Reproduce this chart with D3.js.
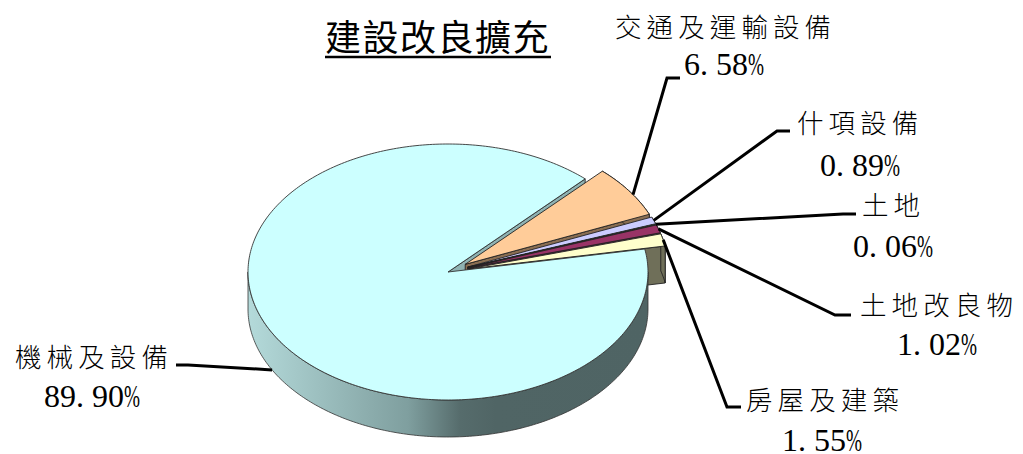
<!DOCTYPE html>
<html><head><meta charset="utf-8">
<script src="https://cdn.jsdelivr.net/npm/d3@7"></script>
<style>html,body{margin:0;background:#fff}svg{display:block}</style></head>
<body><svg id="c" width="1023" height="454"></svg>
<script>
const categories=["機械及設備","房屋及建築","土地改良物","土地","什項設備","交通及運輸設備"];
const values=[89.90,1.55,1.02,0.06,0.89,6.58];
const colors=["#CCFFFF","#FFFFCC","#993366","#CCFFCC","#CCCCFF","#FFCC99"];
const wallColors=["#8FB2B2","#6F6F59","#5A2440","#5A6F5A","#6A6A80","#8A6E52"];
const percentLabels=["89.90%","1.55%","1.02%","0.06%","0.89%","6.58%"];
const titleText="建設改良擴充";

// layout
const W=1023,H=454,cx=448,cy=272,rx=200,ry=128,depth=37,explode=0.105;
const firstCut=46.7*Math.PI/180; // math angle of the upper cut of the big slice
const labelLayout=[
 {name:[15,367],pct:[44,407],elbow:[[188,365],[176,365]]},
 {name:[746,410],pct:[782,451],elbow:[[727,407],[741,407]]},
 {name:[860,315],pct:[897,355],elbow:[[835,315],[851,315]]},
 {name:[862,215],pct:[853,257],elbow:[[843,214],[856,214]]},
 {name:[797,133],pct:[820,176],elbow:[[777,131],[790,131]]},
 {name:[615,37],pct:[684,75],elbow:[[667,78],[680,78]]}
];
const cjk='"Noto Sans CJK TC","Noto Sans CJK SC",sans-serif';
const svg=d3.select("#c");
const x=d3.scaleLinear().domain([-1,1]).range([cx-rx,cx+rx]);
const y=d3.scaleLinear().domain([-1,1]).range([cy+ry,cy-ry]);

const pie=d3.pie().sort(null).startAngle(0).endAngle(2*Math.PI);
const arcs=pie(values).map((d,i)=>{
  const a0=firstCut+d.startAngle, a1=firstCut+d.endAngle;
  const mid=(a0+a1)/2;
  const e=i===0?0:explode;
  return {i,a0,a1,mid,ox:e*Math.cos(mid),oy:e*Math.sin(mid)};
});
const line=d3.line();
const P=(s,a,r=1,z=0)=>[x(s.ox+r*Math.cos(a)),y(s.oy+r*Math.sin(a))+z];
const arcPts=(s,a0,a1,z=0)=>d3.range(0,1.0001,1/Math.max(4,Math.ceil(Math.abs(a1-a0)*60))).map(t=>P(s,a0+(a1-a0)*t,1,z));

const defs=svg.append("defs");
const g=defs.append("linearGradient").attr("id","side").attr("gradientUnits","userSpaceOnUse")
 .attr("x1",cx-rx).attr("x2",cx+rx).attr("y1",0).attr("y2",0);
[[0,"#B4DADA"],[0.12,"#A4C8C8"],[0.3,"#8CADAD"],[0.4,"#7F9F9F"],[0.53,"#566C6C"],[0.62,"#506565"],[1,"#4F6464"]]
 .forEach(([o,c])=>g.append("stop").attr("offset",o).attr("stop-color",c));

const outline=(sel)=>sel.attr("stroke","#222").attr("stroke-width",0.9).attr("stroke-linejoin","round");
const main=arcs[0];
// wall on the upper cut of the big slice
svg.append("path").attr("d",line([P(main,main.a0,0),P(main,main.a0,1),P(main,main.a0,1,depth),P(main,main.a0,0,depth)])+"Z")
  .attr("fill",wallColors[0]).call(outline);

// exploded slices, back to front
arcs.slice(1).reverse().forEach(s=>{
  const gs=svg.append("g").attr("class","slice");
  // lower cut wall
  gs.append("path").attr("d",line([P(s,s.a0,0),P(s,s.a0,1),P(s,s.a0,1,depth),P(s,s.a0,0,depth)])+"Z")
    .attr("fill",wallColors[s.i]).call(outline);
  // outer wall
  gs.append("path").attr("d",line([...arcPts(s,s.a0,s.a1),...arcPts(s,s.a1,s.a0,depth)])+"Z")
    .attr("fill",wallColors[s.i]).call(outline);
  // top
  gs.append("path").attr("d",line([P(s,s.a0,0),...arcPts(s,s.a0,s.a1)])+"Z")
    .attr("fill",colors[s.i]).call(outline);
});

// big slice outer wall (visible lower half), then top
const a180=Math.PI, a360=2*Math.PI;
svg.append("path").attr("d",line([...arcPts(main,a180,a360),...arcPts(main,a360,a180,depth)])+"Z")
  .attr("fill","url(#side)").attr("stroke","#333").attr("stroke-width",0.8);
svg.append("path").attr("d",line([P(main,main.a0,0),...arcPts(main,main.a0,main.a1)])+"Z")
  .attr("fill",colors[0]).attr("stroke","#333").attr("stroke-width",0.9).attr("stroke-linejoin","round");

// leader lines
const sideAnchor=P(main,208.4*Math.PI/180,1,depth);
arcs.forEach((s,i)=>{
  const start=i===0?sideAnchor:(i===5?P(s,s.a0+(s.a1-s.a0)*0.42):P(s,s.mid));
  svg.append("path").attr("d",line([start,...labelLayout[i].elbow])).attr("fill","none")
    .attr("stroke","#000").attr("stroke-width",3);
});

// text
svg.append("text").attr("x",325).attr("y",51).attr("font-family",cjk).attr("font-size",36).attr("letter-spacing",1.5)
  .attr("fill","#000").text(titleText);
svg.append("line").attr("x1",325).attr("x2",551).attr("y1",57).attr("y2",57).attr("stroke","#000").attr("stroke-width",2.4);

categories.forEach((c,i)=>{
  const L=labelLayout[i];
  svg.append("text").attr("x",L.name[0]).attr("y",L.name[1]).attr("font-family",cjk).attr("font-weight",300)
    .attr("font-size",26.5).attr("letter-spacing",5.1).attr("fill","#000").text(c);
  const t=svg.append("text").attr("y",L.pct[1]).attr("font-family",'"Liberation Serif",serif').attr("font-size",32).attr("fill","#000");
  Array.from(percentLabels[i]).forEach((ch,k)=>{
    const ts=t.append("tspan").attr("x",L.pct[0]+k*16).text(ch);
    if(ch==="%") ts.attr("textLength",16).attr("lengthAdjust","spacingAndGlyphs");
  });
});
</script></body></html>
